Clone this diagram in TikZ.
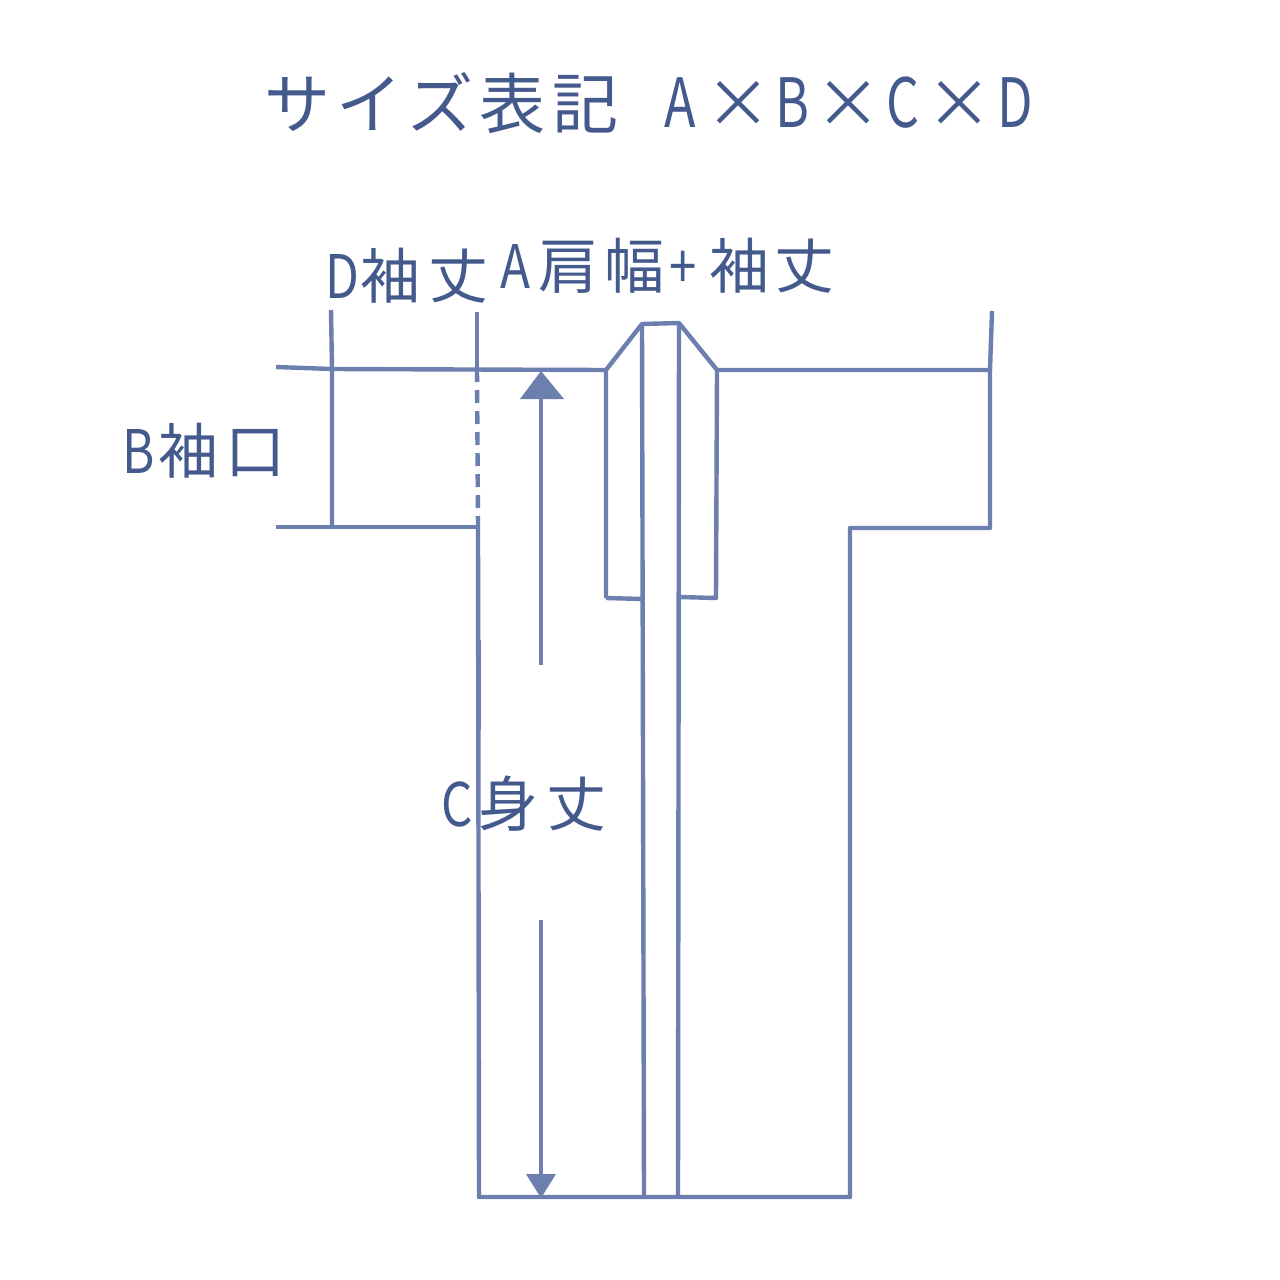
\documentclass[tikz,border=0pt]{standalone}
\usepackage{fontspec}
\setmainfont{Noto Sans CJK JP}
\newfontfamily\labellatin[FakeStretch=0.82]{Noto Sans CJK JP}
\newfontfamily\titlefont[LetterSpace=10]{Noto Sans CJK JP}
\newfontfamily\titlelatin[FakeStretch=0.76]{Noto Sans CJK JP}
\newcommand{\cellbox}[2]{\makebox[#1pt][l]{#2}}
\newcommand{\narrowl}[2]{\cellbox{#1}{\labellatin #2}}
\newcommand{\narrowt}[2]{\cellbox{#1}{\titlelatin\fontsize{68pt}{70pt}\selectfont #2}}
\definecolor{inkline}{HTML}{6C7FAE}
\definecolor{inktext}{HTML}{44598C}
\tikzset{
  outline/.style={draw=inkline,line width=4.4pt,line join=round},
  thin outline/.style={draw=inkline,line width=4pt},
  label/.style={text=inktext,inner sep=0pt,anchor=west,font=\fontsize{60pt}{66pt}\selectfont},
  title text/.style={text=inktext,inner sep=0pt,anchor=west,font=\fontsize{66pt}{70pt}\selectfont\titlefont},
  formula text/.style={text=inktext,inner sep=0pt,anchor=west,font=\fontsize{66pt}{70pt}\selectfont},
  tip/.style={fill=inkline,draw=none}
}
\begin{document}
\begin{tikzpicture}[x=1pt,y=-1pt]
\useasboundingbox (0,0) rectangle (1280,1280);
\fill[white] (0,0) rectangle (1280,1280);
% title
\node[title text] (title) at (264,103) {サイズ表記};
\node[formula text] (formula) at (664,103) {\narrowt{41}{A}\cellbox{70}{×}\narrowt{40}{B}\cellbox{71}{×}\narrowt{40}{C}\cellbox{71}{×}\narrowt{30}{D}};
% labels
\node[label] (dlabel) at (325,276) {\narrowl{35}{D}\cellbox{68}{袖}\cellbox{60}{丈}};
\node[label] (alabel) at (500,266) {\narrowl{38}{A}\cellbox{66}{肩}\cellbox{65}{幅}\narrowl{40}{+}\cellbox{65}{袖}\cellbox{60}{丈}};
\node[label] (blabel) at (122,451) {\narrowl{36}{B}\cellbox{67}{袖}\cellbox{60}{口}};
\node[label] (clabel) at (441,804) {\narrowl{37}{C}\cellbox{68}{身}\cellbox{60}{丈}};
% key points
\coordinate (sl1) at (276,367);
\coordinate (sl2) at (332,369);
\coordinate (st1) at (331,310);
\coordinate (sb) at (332,527);
\coordinate (sb0) at (276,527);
\coordinate (a1) at (477,369);
\coordinate (a0) at (477,312);
\coordinate (a2) at (478,527);
\coordinate (bl) at (479,1197);
\coordinate (br) at (850,1197);
\coordinate (rin) at (850,528);
\coordinate (rout) at (990,528);
\coordinate (rtop) at (990,370);
\coordinate (rup) at (992,311);
\coordinate (cr) at (717,370);
\coordinate (cl) at (606,370);
\coordinate (ct1) at (642,324);
\coordinate (ct2) at (679,323);
% sleeves and body
\draw[outline] (sl1) -- (sl2) -- (cl);
\draw[outline] (st1) -- (sl2) -- (sb);
\draw[outline] (sb0) -- (sb) -- (a2);
\draw[outline] (a0) -- (a1);
\draw[outline,dash pattern=on 13pt off 8pt] (a1) -- (a2);
\draw[outline] (a2) -- (bl) -- (br) -- (rin) -- (rout) -- (rtop) -- (cr);
\draw[outline] (rtop) -- (rup);
\draw[outline] (479,640) -- (479,730);
% collar
\draw[outline] (606,598) -- (cl) -- (ct1) -- (ct2) -- (cr) -- (716,598) -- (679,597);
\draw[outline] (606,598) -- (643,599);
\draw[outline] (ct1) -- (644,1197);
\draw[outline] (ct2) -- (678,1197);
% dimension arrow
\coordinate (up) at (541,371);
\coordinate (down) at (541,1198);
\draw[thin outline] (541,665) -- (541,395);
\draw[thin outline] (541,920) -- (541,1178);
\fill[tip] (up) -- (564,399) -- (520,399) -- cycle;
\fill[tip] (down) -- (526,1174) -- (556,1174) -- cycle;
\end{tikzpicture}
\end{document}
